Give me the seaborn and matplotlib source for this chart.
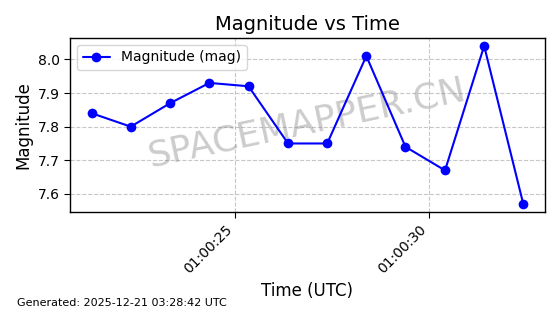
import matplotlib
matplotlib.use("Agg")
import matplotlib.pyplot as plt
import matplotlib.dates as mdates
import seaborn as sns
import pandas as pd
import numpy as np

# Data
seconds = [21.30, 22.31, 23.33, 24.34, 25.35, 26.37, 27.38, 28.39, 29.40, 30.42, 31.43, 32.44]
magnitudes = [7.84, 7.80, 7.87, 7.93, 7.92, 7.75, 7.75, 8.01, 7.74, 7.67, 8.04, 7.57]
base_time = "2025-12-21 01:00:00"
series_label = "Magnitude (mag)"

times = pd.Timestamp(base_time) + pd.to_timedelta(seconds, unit="s")
df = pd.DataFrame({"Time": times, "Magnitude": magnitudes})

sns.set_style("white")
plt.rcParams["font.family"] = ["DejaVu Sans"]
plt.rcParams["text.color"] = "black"
plt.rcParams["axes.labelcolor"] = "black"
plt.rcParams["xtick.color"] = "black"
plt.rcParams["ytick.color"] = "black"

fig = plt.figure(figsize=(5.6, 3.14), dpi=100)
ax = fig.add_axes([0.125, 0.325, 0.848, 0.554])

sns.lineplot(data=df, x="Time", y="Magnitude", ax=ax, color="blue", marker="o",
             markersize=7, markeredgewidth=0, linewidth=1.5, label=series_label, zorder=3)

ax.set_title("Magnitude vs Time", fontsize=14, color="black")
ax.set_xlabel("Time (UTC)", fontsize=12)
ax.set_ylabel("Magnitude", fontsize=12)
ax.grid(True, linestyle="--", color="#b0b0b0", alpha=0.7, linewidth=0.8)
ax.xaxis.set_major_locator(mdates.SecondLocator(bysecond=range(0, 60, 5)))
ax.xaxis.set_major_formatter(mdates.DateFormatter("%H:%M:%S"))
ax.set_yticks([7.6, 7.7, 7.8, 7.9, 8.0])
for lbl in ax.get_xticklabels():
    lbl.set_rotation(45)
    lbl.set_ha("right")
ax.tick_params(axis="both", which="both", length=4, direction="out", bottom=True, left=True, labelsize=10)
for s in ax.spines.values():
    s.set_color("black")
    s.set_linewidth(1.0)
ax.legend(loc="upper left", fontsize=10)

ax.text(0.5, 0.51, "SPACEMAPPER.CN", transform=ax.transAxes, fontsize=26,
        color="gray", alpha=0.4, rotation=12, ha="center", va="center", zorder=1)

fig.text(0.03, 0.025, "Generated: 2025-12-21 03:28:42 UTC", fontsize=8)

fig.savefig("out.png", dpi=100)
